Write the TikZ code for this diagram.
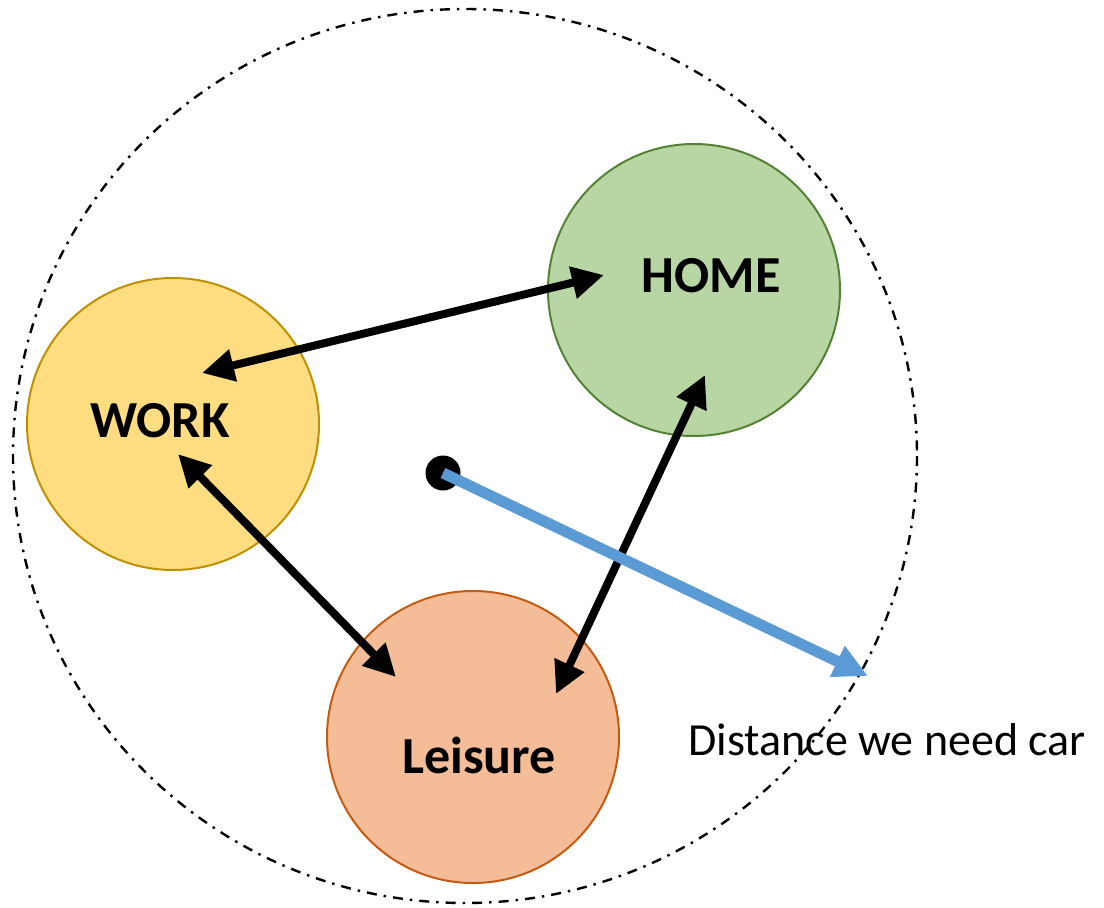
\documentclass[tikz,border=0pt]{standalone}
\usepackage{fontspec}
\setmainfont{Carlito}
\usetikzlibrary{arrows.meta}
\definecolor{workfill}{HTML}{FFDD80}
\definecolor{workline}{HTML}{BF9000}
\definecolor{homefill}{HTML}{B8D6A3}
\definecolor{homeline}{HTML}{548235}
\definecolor{leisfill}{HTML}{F5BD97}
\definecolor{leisline}{HTML}{C55A11}
\definecolor{carblue}{HTML}{5B9BD5}

\begin{document}
\begin{tikzpicture}[x=1pt, y=-1pt,
                place/.style={circle, line width=2pt, minimum size=292pt, inner sep=0pt},
                placetext/.style={anchor=base, font=\fontsize{52}{60}\selectfont\bfseries},
                trip/.style={{Triangle[length=32pt,width=31pt]}-{Triangle[length=32pt,width=31pt]}, line width=8pt}]
                \useasboundingbox (0, 0) rectangle (1104, 908);
                % range reachable without a car
                \draw[line width=2.4pt, dash pattern=on 10pt off 7pt on 2.5pt off 7pt] (465, 456) ellipse [x radius=452, y radius=447];
                \node[place, draw=workline, fill=workfill] (work) at (173, 424) {};
                \node[place, draw=homeline, fill=homefill] (home) at (694, 290) {};
                \node[place, draw=leisline, fill=leisfill] (leisure) at (473, 737) {};
                \node[placetext] (worktext) at (160, 437) {WORK};
                \node[placetext] (hometext) at (711, 292) {HOME};
                \node[placetext] (leisuretext) at (479, 773) {Leisure};
                \coordinate (work-a) at ([shift={(29, -51)}]work.center);
                \coordinate (work-b) at ([shift={(5, 30)}]work.center);
                \coordinate (home-a) at ([shift={(-90, -15)}]home.center);
                \coordinate (home-b) at ([shift={(11, 85)}]home.center);
                \coordinate (leisure-a) at ([shift={(-77, -60)}]leisure.center);
                \coordinate (leisure-b) at ([shift={(83, -43)}]leisure.center);
                \draw[trip] (work-a) -- (home-a);
                \draw[trip] (work-b) -- (leisure-a);
                \draw[trip] (home-b) -- (leisure-b);
                \node[circle, fill=black, minimum size=35pt, inner sep=0pt] (centre) at (443, 473) {};
                \coordinate (edge) at (868, 676);
                \draw[-{Triangle[length=34pt,width=32pt]}, carblue, line width=11pt] (centre.center) -- (edge);
                \node[anchor=base, font=\fontsize{46}{54}\selectfont] (dist) at (887, 755) {Distance we need car};
\end{tikzpicture}
\end{document}
